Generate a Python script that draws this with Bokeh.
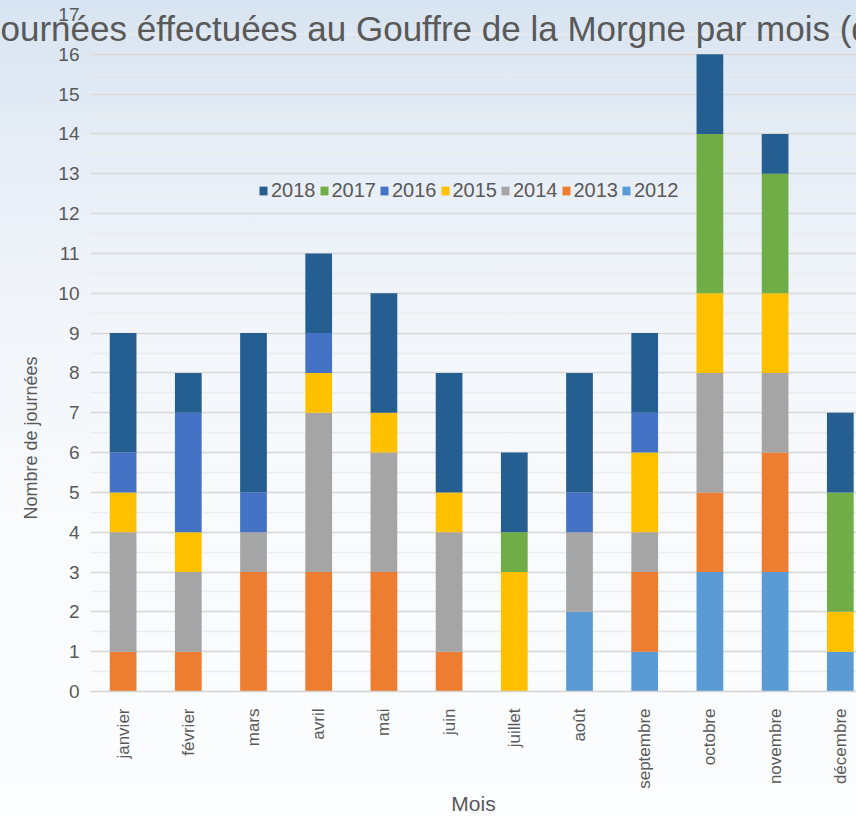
import numpy as np
from bokeh.plotting import figure
from bokeh.models import (ColumnDataSource, Range1d, FixedTicker, SingleIntervalTicker,
                          Legend, LegendItem, Title)
from bokeh.embed import file_html
from bokeh.resources import INLINE

# ---- data ----
months = ["janvier", "février", "mars", "avril", "mai", "juin", "juillet",
          "août", "septembre", "octobre", "novembre", "décembre"]
years = ["2012", "2013", "2014", "2015", "2016", "2017", "2018"]
y2012 = [0, 0, 0, 0, 0, 0, 0, 2, 1, 3, 3, 1]
y2013 = [1, 1, 3, 3, 3, 1, 0, 0, 2, 2, 3, 0]
y2014 = [3, 2, 1, 4, 3, 3, 0, 2, 1, 3, 2, 0]
y2015 = [1, 1, 0, 1, 1, 1, 3, 0, 2, 2, 2, 1]
y2016 = [1, 3, 1, 1, 0, 0, 0, 1, 1, 0, 0, 0]
y2017 = [0, 0, 0, 0, 0, 0, 1, 0, 0, 4, 3, 3]
y2018 = [3, 1, 4, 2, 3, 3, 2, 3, 2, 2, 1, 2]
colors = ["#5B9BD5", "#ED7D31", "#A5A5A5", "#FFC000", "#4472C4", "#70AD47", "#255E91"]

title_text = "Journées éffectuées au Gouffre de la Morgne par mois (de 2012 à 2018)"
ylabel = "Nombre de journées"
xlabel = "Mois"

pos = np.arange(len(months)) + 0.5
data = {"x": pos}
for yr, vals in zip(years, [y2012, y2013, y2014, y2015, y2016, y2017, y2018]):
    data[yr] = vals
source = ColumnDataSource(data)

REG = "'Liberation Sans', Arial, sans-serif"
TXT = "#595959"

W, H = 856, 817
p = figure(width=W, height=H, output_backend="svg", toolbar_location=None,
           x_range=Range1d(0, (W - 90) / 65.2), y_range=Range1d(0, 17),
           min_border_left=90, min_border_right=0, min_border_top=14,
           min_border_bottom=124)
p.styles = {"background": "linear-gradient(to bottom, #d8e4f1 0%, #e6edf6 18%, "
                          "#f1f5fa 38%, #f8fafc 60%, #fcfdfe 100%)"}
p.border_fill_alpha = 0
p.background_fill_alpha = 0
p.outline_line_color = None

# main title: runs past the left edge and over the top of the frame, as in the reference
p.title.text = title_text
p.title.align = "left"
p.title.offset = -107.5
p.title.standoff = -66
p.title.vertical_align = "bottom"
p.title.text_font = REG
p.title.text_font_size = "35px"
p.title.text_font_style = "normal"
p.title.text_color = TXT

renderers = p.vbar_stack(years, x="x", width=0.41, color=colors, source=source,
                         line_color=None)

# axes
p.xaxis.ticker = FixedTicker(ticks=list(pos))
p.xaxis.major_label_overrides = {float(v): m for v, m in zip(pos, months)}
p.xaxis.major_label_orientation = np.pi / 2
p.xaxis.major_label_text_font = REG
p.xaxis.major_label_text_font_size = "17px"
p.xaxis.major_label_text_color = TXT
p.xaxis.major_label_standoff = 11
p.xaxis.major_tick_line_color = None
p.xaxis.minor_tick_line_color = None
p.xaxis.axis_line_color = "#d4d4d4"
p.xaxis.axis_line_width = 1.5
p.xaxis.axis_label = xlabel
p.xaxis.axis_label_text_font = REG
p.xaxis.axis_label_text_font_style = "normal"
p.xaxis.axis_label_text_font_size = "21px"
p.xaxis.axis_label_text_color = TXT
p.xaxis.axis_label_standoff = 0

p.yaxis.ticker = SingleIntervalTicker(interval=1, num_minor_ticks=2)
p.yaxis.major_label_text_font = REG
p.yaxis.major_label_text_font_size = "19px"
p.yaxis.major_label_text_color = TXT
p.yaxis.major_label_standoff = 5
p.yaxis.major_tick_line_color = None
p.yaxis.minor_tick_line_color = None
p.yaxis.axis_line_color = None

p.xgrid.grid_line_color = None
p.ygrid.grid_line_color = "#d9d9d9"
p.ygrid.grid_line_width = 1.5
p.ygrid.minor_grid_line_color = "#ececec"
p.ygrid.minor_grid_line_width = 1.5

# legend
items = [LegendItem(label=yr, renderers=[r]) for yr, r in zip(years, renderers)][::-1]
legend = Legend(items=items, orientation="horizontal", location=(168, 489),
                label_text_font=REG, label_text_font_size="20px",
                label_text_color=TXT, glyph_width=10, glyph_height=11,
                label_standoff=3, spacing=3, padding=0, margin=0,
                border_line_alpha=0, background_fill_alpha=0)
p.add_layout(legend, "center")

# y axis label as a side title, placed low like the reference
p.add_layout(Title(text=ylabel, align="left", offset=172, standoff=30,
                   text_font=REG, text_font_size="18px", text_font_style="normal",
                   text_color=TXT), "left")

open("out.html", "w").write(file_html(p, INLINE))
